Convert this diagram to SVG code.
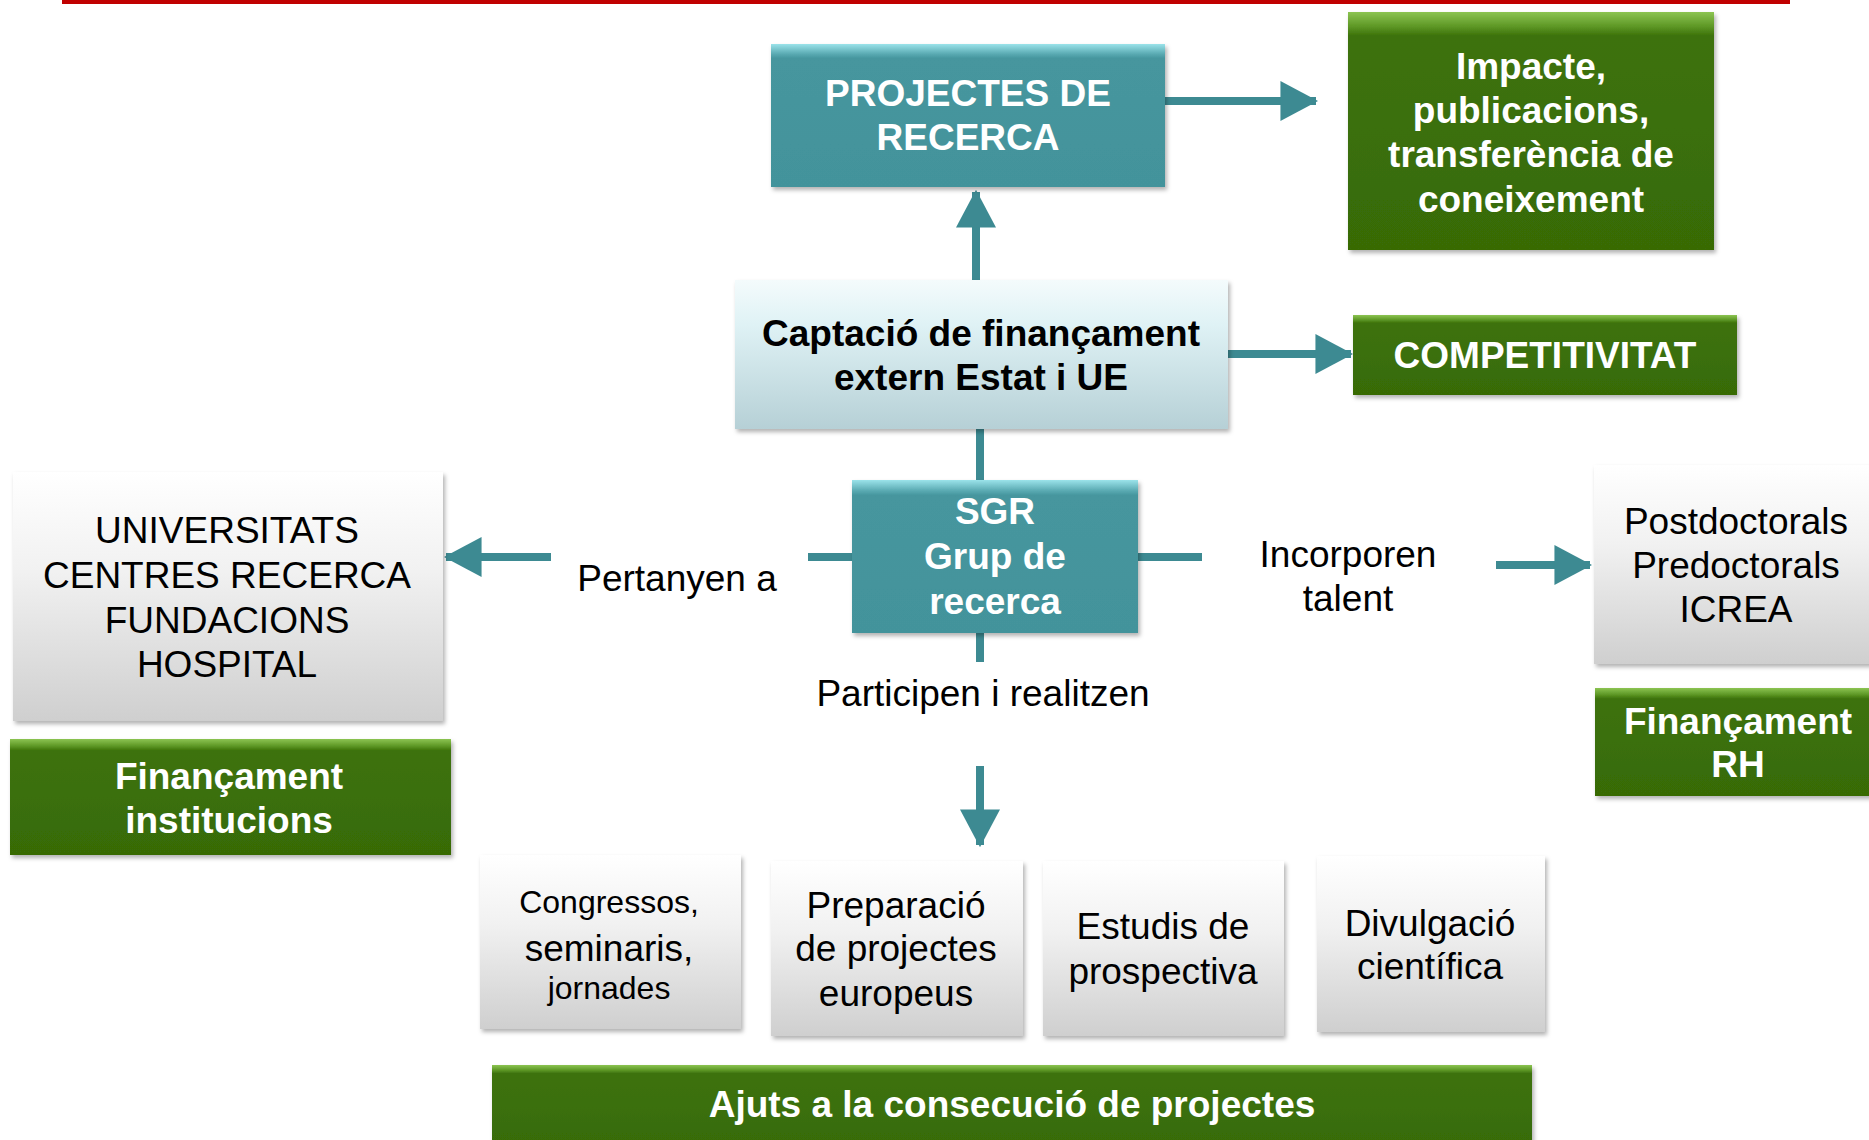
<svg xmlns="http://www.w3.org/2000/svg" width="1869" height="1140" viewBox="0 0 1869 1140">
<style>
text{font-family:"Liberation Sans",Arial,sans-serif;font-size:37px;text-anchor:middle}
.w{fill:#ffffff;font-weight:bold}
.kb{fill:#000000;font-weight:bold}
.k{fill:#000000}
.teal{fill:url(#gTeal);filter:url(#sh)}
.green{fill:url(#gGreen);filter:url(#sh)}
.gray{fill:url(#gGray);filter:url(#sh)}
.cyan{fill:url(#gCyan);filter:url(#sh)}
.ln{stroke:#3d8a92;stroke-width:8;fill:none}
</style>
<defs>
<linearGradient id="gTeal" x1="0" y1="0" x2="0" y2="1">
<stop offset="0" stop-color="#9be3ea"/><stop offset="0.07" stop-color="#5aaab2"/><stop offset="0.1" stop-color="#46969e"/><stop offset="1" stop-color="#43939b"/>
</linearGradient>
<linearGradient id="gGreen" x1="0" y1="0" x2="0" y2="1">
<stop offset="0" stop-color="#8cc452"/><stop offset="0.06" stop-color="#5e9826"/><stop offset="0.1" stop-color="#3d720a"/><stop offset="1" stop-color="#376b06"/>
</linearGradient>
<linearGradient id="gGray" x1="0" y1="0" x2="0" y2="1">
<stop offset="0" stop-color="#ffffff"/><stop offset="0.4" stop-color="#f1f1f1"/><stop offset="1" stop-color="#cfcfcf"/>
</linearGradient>
<linearGradient id="gCyan" x1="0" y1="0" x2="0" y2="1">
<stop offset="0" stop-color="#f4fbfc"/><stop offset="0.3" stop-color="#dff2f5"/><stop offset="1" stop-color="#b6d0d6"/>
</linearGradient>
<filter id="sh" x="-5%" y="-5%" width="112%" height="115%">
<feDropShadow dx="2" dy="3" stdDeviation="2" flood-color="#000" flood-opacity="0.3"/>
</filter>
<marker id="ah" markerUnits="userSpaceOnUse" markerWidth="40" markerHeight="40" viewBox="0 0 36 36" refX="34" refY="18" orient="auto">
<path d="M2,0 L36,18 L2,36 Z" fill="#3d8a92"/>
</marker>
</defs>
<rect width="1869" height="1140" fill="#ffffff"/>
<rect x="62" y="0" width="1728" height="4" fill="#c00000"/>

<g id="connectors">
<line class="ln" x1="1165" y1="101" x2="1316" y2="101" marker-end="url(#ah)"/>
<line class="ln" x1="976" y1="280" x2="976" y2="192" marker-end="url(#ah)"/>
<line class="ln" x1="1228" y1="354" x2="1351" y2="354" marker-end="url(#ah)"/>
<line class="ln" x1="980" y1="429" x2="980" y2="482"/>
<line class="ln" x1="852" y1="557" x2="808" y2="557"/>
<line class="ln" x1="551" y1="557" x2="446" y2="557" marker-end="url(#ah)"/>
<line class="ln" x1="1138" y1="557" x2="1202" y2="557"/>
<line class="ln" x1="1496" y1="565" x2="1590" y2="565" marker-end="url(#ah)"/>
<line class="ln" x1="980" y1="633" x2="980" y2="662"/>
<line class="ln" x1="980" y1="766" x2="980" y2="845" marker-end="url(#ah)"/>
<text class="k" x="677" y="591">Pertanyen a</text>
<text class="k" x="1348" y="567">Incorporen</text>
<text class="k" x="1348" y="611">talent</text>
<text class="k" x="983" y="706">Participen i realitzen</text>
</g>

<g id="projectes">
<rect class="teal" x="771" y="44" width="394" height="143"/>
<text class="w" x="968" y="106">PROJECTES DE</text>
<text class="w" x="968" y="150">RECERCA</text>
</g>

<g id="impacte">
<rect class="green" x="1348" y="12" width="366" height="238"/>
<text class="w" x="1531" y="79">Impacte,</text>
<text class="w" x="1531" y="123">publicacions,</text>
<text class="w" x="1531" y="167">transferència de</text>
<text class="w" x="1531" y="212">coneixement</text>
</g>

<g id="captacio">
<rect class="cyan" x="735" y="280" width="493" height="149"/>
<text class="kb" x="981" y="346">Captació de finançament</text>
<text class="kb" x="981" y="390">extern Estat i UE</text>
</g>

<g id="competitivitat">
<rect class="green" x="1353" y="315" width="384" height="80"/>
<text class="w" x="1545" y="368">COMPETITIVITAT</text>
</g>

<g id="sgr">
<rect class="teal" x="852" y="480" width="286" height="153"/>
<text class="w" x="995" y="524">SGR</text>
<text class="w" x="995" y="569">Grup de</text>
<text class="w" x="995" y="614">recerca</text>
</g>

<g id="universitats">
<rect class="gray" x="13" y="472" width="430" height="249"/>
<text class="k" x="227" y="543">UNIVERSITATS</text>
<text class="k" x="227" y="588">CENTRES RECERCA</text>
<text class="k" x="227" y="633">FUNDACIONS</text>
<text class="k" x="227" y="677">HOSPITAL</text>
</g>

<g id="financament-institucions">
<rect class="green" x="10" y="739" width="441" height="116"/>
<text class="w" x="229" y="789">Finançament</text>
<text class="w" x="229" y="833">institucions</text>
</g>

<g id="postdoctorals">
<rect class="gray" x="1594" y="465" width="290" height="199"/>
<text class="k" x="1736" y="534">Postdoctorals</text>
<text class="k" x="1736" y="578">Predoctorals</text>
<text class="k" x="1736" y="622">ICREA</text>
</g>

<g id="financament-rh">
<rect class="green" x="1595" y="688" width="290" height="108"/>
<text class="w" x="1738" y="734">Finançament</text>
<text class="w" x="1738" y="777">RH</text>
</g>

<g id="congressos">
<rect class="gray" x="480" y="855" width="261" height="174"/>
<text class="k" x="609" y="913" style="font-size:32px">Congressos,</text>
<text class="k" x="609" y="961">seminaris,</text>
<text class="k" x="609" y="999" style="font-size:32px">jornades</text>
</g>

<g id="preparacio">
<rect class="gray" x="771" y="861" width="252" height="175"/>
<text class="k" x="896" y="918">Preparació</text>
<text class="k" x="896" y="961">de projectes</text>
<text class="k" x="896" y="1006">europeus</text>
</g>

<g id="estudis">
<rect class="gray" x="1043" y="861" width="241" height="175"/>
<text class="k" x="1163" y="939">Estudis de</text>
<text class="k" x="1163" y="984">prospectiva</text>
</g>

<g id="divulgacio">
<rect class="gray" x="1317" y="856" width="228" height="176"/>
<text class="k" x="1430" y="936">Divulgació</text>
<text class="k" x="1430" y="979">científica</text>
</g>

<g id="ajuts">
<rect class="green" x="492" y="1065" width="1040" height="85"/>
<text class="w" x="1012" y="1117">Ajuts a la consecució de projectes</text>
</g>
</svg>
